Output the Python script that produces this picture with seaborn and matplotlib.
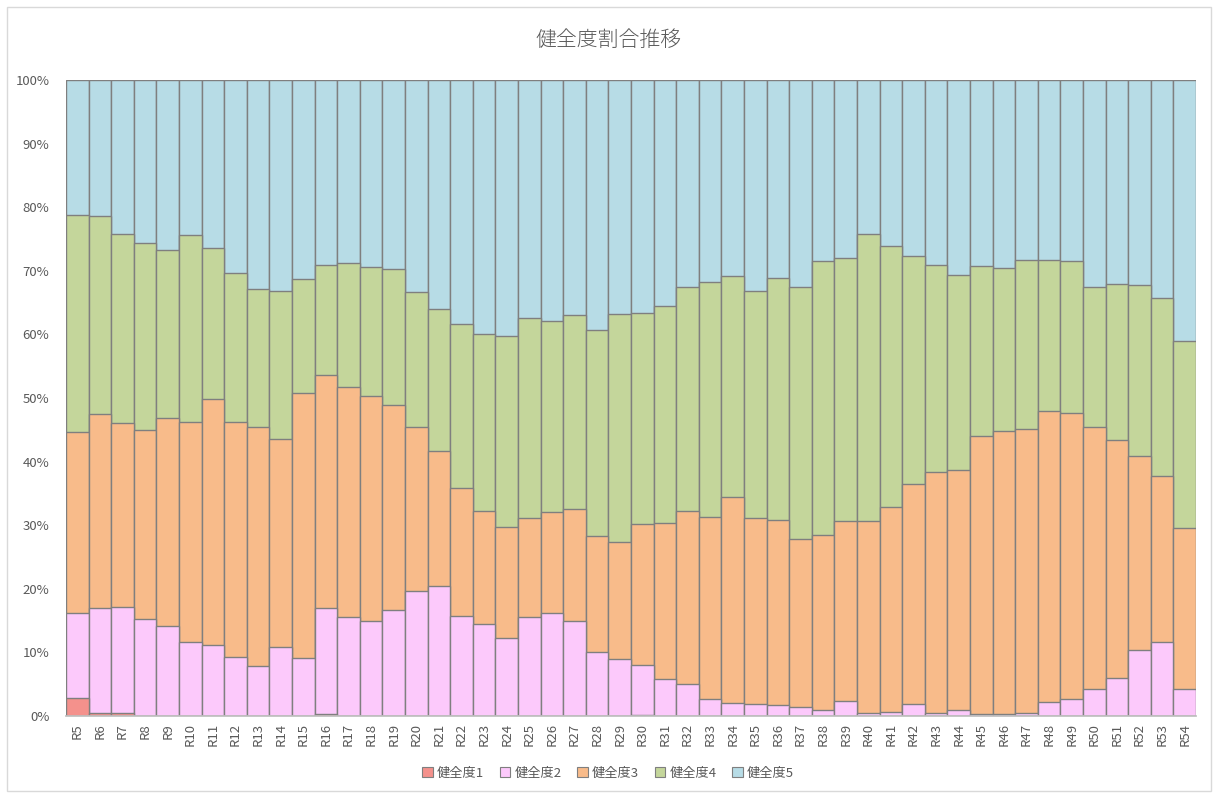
import matplotlib
matplotlib.use("Agg")
import matplotlib.pyplot as plt
import matplotlib.patches as mpatches
from matplotlib.ticker import PercentFormatter
import numpy as np
import pandas as pd
import seaborn as sns

categories = [f"R{i}" for i in range(5, 55)]

kenzen1 = [2.8, 0.5, 0.4, 0, 0, 0, 0, 0, 0, 0,
           0, 0.3, 0, 0, 0, 0, 0, 0, 0, 0,
           0, 0, 0, 0, 0, 0.2, 0, 0, 0, 0,
           0, 0, 0, 0, 0, 0, 0, 0, 0, 0,
           0, 0, 0, 0, 0, 0, 0, 0, 0, 0]
kenzen2 = [13.4, 16.5, 16.7, 15.2, 14.1, 11.6, 11.1, 9.3, 7.8, 10.9,
           9.1, 16.7, 15.6, 14.9, 16.6, 19.7, 20.5, 15.7, 14.5, 12.2,
           15.6, 16.2, 14.9, 10.0, 9.0, 7.8, 5.8, 5.0, 2.7, 2.1,
           1.9, 1.8, 1.4, 0.9, 2.4, 0.5, 0.7, 1.9, 0.4, 1.0,
           0.3, 0.3, 0.5, 2.2, 2.7, 4.2, 6.0, 10.4, 11.6, 4.3]
kenzen3 = [28.5, 30.5, 28.9, 29.8, 32.8, 34.7, 38.7, 36.9, 37.6, 32.7,
           41.7, 36.6, 36.1, 35.4, 32.3, 25.8, 21.2, 20.2, 17.8, 17.5,
           15.5, 15.9, 17.7, 18.3, 18.4, 22.2, 24.5, 27.2, 28.6, 32.4,
           29.2, 29.0, 26.4, 27.6, 28.2, 30.1, 32.2, 34.5, 38.0, 37.7,
           43.7, 44.5, 44.6, 45.7, 45.0, 41.3, 37.4, 30.5, 26.1, 25.2]
kenzen4 = [34.0, 31.1, 29.8, 29.4, 26.3, 29.3, 23.8, 23.5, 21.8, 23.2,
           17.9, 17.3, 19.5, 20.3, 21.4, 21.1, 22.3, 25.7, 27.8, 30.0,
           31.5, 30.0, 30.4, 32.4, 35.8, 33.2, 34.1, 35.3, 36.9, 34.7,
           35.7, 38.1, 39.6, 43.0, 41.4, 45.2, 41.0, 35.9, 32.5, 30.6,
           26.8, 25.7, 26.6, 23.8, 23.8, 21.9, 24.6, 26.9, 28.1, 29.5]
kenzen5 = [21.3, 21.4, 24.2, 25.6, 26.8, 24.4, 26.4, 30.3, 32.8, 33.2,
           31.3, 29.1, 28.8, 29.4, 29.7, 33.4, 36.0, 38.4, 39.9, 40.3,
           37.4, 37.9, 37.0, 39.3, 36.8, 36.6, 35.6, 32.5, 31.8, 30.8,
           33.2, 31.1, 32.6, 28.5, 28.0, 24.2, 26.1, 27.7, 29.1, 30.7,
           29.2, 29.5, 28.3, 28.3, 28.5, 32.6, 32.0, 32.2, 34.2, 41.0]

series_names = ["健全度1", "健全度2", "健全度3", "健全度4", "健全度5"]
colors = ["#F4918C", "#FCC9FB", "#F8BB8A", "#C4D69B", "#B7DCE6"]

sns.set_theme(style="white")
plt.rcParams["font.family"] = ["Noto Sans CJK JP", "DejaVu Sans"]

vals = np.array([kenzen1, kenzen2, kenzen3, kenzen4, kenzen5], dtype=float)
vals = vals / vals.sum(axis=0) * 100.0
cum = np.cumsum(vals, axis=0)

fig = plt.figure(figsize=(12.16, 7.94), dpi=100)
ax = fig.add_axes([66 / 1216, 1 - 716 / 794, (1196 - 66) / 1216, (716 - 80) / 794])

edge = "#7F7F7F"
for k in range(4, -1, -1):
    df = pd.DataFrame({"cat": categories, "val": cum[k] / 100.0})
    sns.barplot(data=df, x="cat", y="val", color=colors[k], saturation=1,
                width=1.0, edgecolor=edge, linewidth=1.0, ax=ax)

ax.set_xlim(-0.5, len(categories) - 0.5)
ax.set_ylim(0, 1.0)
ax.set_yticks(np.arange(0, 1.01, 0.1))
ax.yaxis.set_major_formatter(PercentFormatter(1.0, decimals=0))
ax.set_xlabel("")
ax.set_ylabel("")
ax.tick_params(axis="both", length=0, labelsize=9.5, colors="#595959")
ax.tick_params(axis="y", pad=12)
ax.tick_params(axis="x", pad=5)
plt.setp(ax.get_xticklabels(), rotation=90)
for s in ["top", "right", "left"]:
    ax.spines[s].set_visible(False)
ax.spines["bottom"].set_color("#BFBFBF")

fig.text(0.5, 1 - 40 / 794, "健全度割合推移", ha="center", va="center",
         fontsize=15, color="#595959", fontweight="light")

handles = [mpatches.Patch(facecolor=colors[i], edgecolor=edge, linewidth=0.8,
                          label=series_names[i]) for i in range(5)]
leg = fig.legend(handles=handles, loc="center", bbox_to_anchor=(0.5, 1 - 773 / 794),
                 ncol=5, frameon=False, fontsize=9.5, handlelength=0.8,
                 handleheight=0.8, handletextpad=0.3, columnspacing=1.2)
for t in leg.get_texts():
    t.set_color("#595959")

border = mpatches.Rectangle((7 / 1216, 3 / 794), 1204 / 1216, 784 / 794,
                            transform=fig.transFigure, fill=False,
                            edgecolor="#D9D9D9", linewidth=1.0)
fig.patches.append(border)

fig.savefig("out.png", dpi=100, facecolor="white")
